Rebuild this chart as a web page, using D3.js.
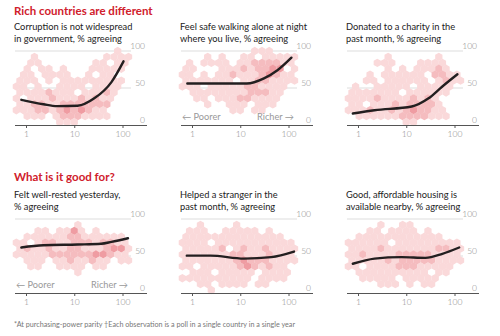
<!DOCTYPE html>
<html>
<head>
<meta charset="utf-8">
<script src="https://cdn.jsdelivr.net/npm/d3@7"></script>
<style>
  body { margin: 0; background: #fff; }
  text { font-family: Lato, "Open Sans", sans-serif; }
</style>
</head>
<body>
<div id="chart"></div>
<script>

var width = 500, height = 336;

// section titles
var sectionTitles = ["Rich countries are different", "What is it good for?"];

// panel subtitles (two lines each)
var panelTitles = [
  ["Corruption is not widespread", "in government, % agreeing"],
  ["Feel safe walking alone at night", "where you live, % agreeing"],
  ["Donated to a charity in the", "past month, % agreeing"],
  ["Felt well-rested yesterday,", "% agreeing"],
  ["Helped a stranger in the", "past month, % agreeing"],
  ["Good, affordable housing is", "available nearby, % agreeing"]
];

var xTicks = [1, 10, 100];
var xTickLabels = ["1", "10", "100"];
var yTicks = [0, 50, 100];

// fitted curves: GDP per person ($'000, log scale) vs % agreeing
var curveGdp = [
  [0.8, 2.3, 4.4, 11.7, 26, 59, 105],
  [0.8, 3, 13.7, 31, 59, 115],
  [0.78, 2.2, 13, 29, 56, 115],
  [0.8, 2.3, 11.7, 36, 59, 130],
  [0.78, 2.4, 12, 44, 130],
  [0.78, 2.2, 8, 25, 56, 125]
];
var curveValues = [
  [34, 28, 25.5, 26, 36, 58, 86],
  [56, 56, 56, 63, 74, 91],
  [15.5, 20, 25, 36, 52, 68.5],
  [61.5, 64.5, 65.5, 66.5, 69, 74],
  [50.5, 50.5, 46.5, 48.5, 56],
  [39.5, 46.5, 48.5, 47.5, 53, 61.5]
];

// hexbin density; rows run from 100% down in steps of 8,
// columns from log10(GDP) = -0.2 in steps of 0.15. "." = empty, 1-4 = shade
var hexRowStep = 8;
var hexColStart = -0.2, hexColStep = 0.15;
var hexGrids = [
  ["..............1.",
   "..1.........1111",
   "..11.......11.11",
   ".1.11.1...11111.",
   ".11.1111..1.11..",
   "111.1.111111111.",
   "11.1..1111.1111.",
   "11112111.11121..",
   "1.111211121211..",
   "1122112222222...",
   "1112212323211...",
   ".111.12221111...",
   "......111......."],
  ["..........111...",
   "...1.1..11.11111",
   ".1.1111.11222211",
   "11...111212233.1",
   "11.1.11211123211",
   "1111111.11221111",
   "111.11111221111.",
   ".1111111122211..",
   "..11.111221111..",
   "...1..111.111...",
   ".......11.11....",
   "................",
   "................"],
  ["................",
   ".....1......1...",
   "....111...1111..",
   ".....1.1.11121..",
   "...1.111111.2211",
   "..11.111111.1211",
   ".1..11111.11111.",
   "1111111.111111..",
   "1111211112121...",
   "11.1112122221...",
   "11121121232211..",
   ".1111112222111..",
   "........11......"],
  ["................",
   "........1.......",
   "...11.1131.1....",
   ".11111122111111.",
   "11.1221122212211",
   "1211211221112331",
   "1111122222233211",
   ".111.11211211.11",
   "..11..1111.11...",
   "........1.......",
   "................",
   "................",
   "................"],
  ["................",
   "..1....1........",
   ".111..11111.1...",
   "11111111111111..",
   "1111.11111111111",
   "111112.121121111",
   "1111111221112111",
   "1111111232221111",
   "11.111112321211.",
   ".111.11111.1111.",
   "1111111111.1111.",
   "..11.1111.11....",
   "....1..........."],
  ["................",
   "....1..11.......",
   "...11.1111.1....",
   ".111111111111...",
   "111111.111111111",
   "1111211111112211",
   "1121111222221111",
   "1111121222221111",
   "11.111122211111.",
   ".1111111111.11..",
   "..11111.11111...",
   "....111.1.11....",
   "................"]
];

var shades = {"1": "#fad9da", "2": "#f5bcbf", "3": "#ef9ca2", "4": "#e7808a"};
var red = "#d0202c";

var panelLeft = [15, 181, 347];
var rowTop = [51, 219];   // y of the 100 gridline
var plotH = 74;

var svg = d3.select("#chart").append("svg")
    .attr("width", width)
    .attr("height", height);

// section headings
svg.selectAll("text.section")
    .data(sectionTitles)
    .enter()
    .append("text")
    .classed("section", true)
    .attr("x", 14)
    .attr("y", (d, i) => i == 0 ? 15 : 181)
    .attr("fill", red)
    .style("font-size", "11.5px")
    .style("font-weight", "bold")
    .text(d => d);

var hexR = 4.2;
function hexPath(cx, cy) {
  var pts = d3.range(6).map(k => {
    var a = Math.PI / 3 * k + Math.PI / 6;
    return [cx + hexR * Math.cos(a), cy + hexR * Math.sin(a)];
  });
  return "M" + pts.join("L") + "Z";
}

panelTitles.forEach((title, p) => {
  var left = panelLeft[p % 3];
  var top = rowTop[Math.floor(p / 3)];

  var x = d3.scaleLog().domain([1, 100]).range([left + 11, left + 107.5]);
  var y = d3.scaleLinear().domain([0, 100]).range([top + plotH, top]);

  var g = svg.append("g");

  // subtitle
  g.selectAll("text.sub")
      .data(title)
      .enter()
      .append("text")
      .attr("x", left - 1)
      .attr("y", (d, i) => top - 21 + i * 11.5)
      .attr("fill", "#222")
      .style("font-size", "9.3px")
      .text(d => d);

  // gridlines
  g.selectAll("line.grid")
      .data([50, 100])
      .enter()
      .append("line")
      .attr("x1", left)
      .attr("x2", left + 116)
      .attr("y1", d => y(d))
      .attr("y2", d => y(d))
      .attr("stroke", "#d4d4d4")
      .attr("stroke-width", 0.8);

  // hexbins
  var cells = [];
  hexGrids[p].forEach((row, i) => {
    row.split("").forEach((c, j) => {
      if (c == ".") return;
      var lg = hexColStart + j * hexColStep + (i % 2 ? hexColStep / 2 : 0);
      cells.push({gdp: Math.pow(10, lg), value: 100 - i * hexRowStep, shade: c});
    });
  });
  g.append("g")
      .selectAll("path")
      .data(cells)
      .enter()
      .append("path")
      .attr("d", d => hexPath(x(d.gdp), y(d.value)))
      .attr("fill", d => shades[d.shade]);

  // y labels
  g.selectAll("text.ylab")
      .data(yTicks)
      .enter()
      .append("text")
      .attr("x", left + 130)
      .attr("y", d => y(d) - 2.5)
      .attr("text-anchor", "end")
      .attr("fill", "#888")
      .style("font-size", "8.5px")
      .style("font-weight", 300)
      .text(d => d);

  // x axis
  var axis = g.append("g")
      .attr("transform", "translate(0," + (top + plotH) + ")")
      .call(d3.axisBottom(x).tickValues(xTicks).tickFormat((d, i) => xTickLabels[i]).tickSize(3).tickPadding(3));
  axis.select(".domain")
      .attr("d", "M" + left + ",0.5H" + (left + 132))
      .attr("stroke", "#555");
  axis.selectAll(".tick line").attr("stroke", "#555");
  axis.selectAll(".tick text")
      .attr("fill", "#888")
      .style("font-family", "Lato, sans-serif")
      .style("font-size", "8.5px")
      .style("font-weight", 300);

  // curve
  var pts = curveGdp[p].map((d, i) => [d, curveValues[p][i]]);
  g.append("path")
      .datum(pts)
      .attr("d", d3.line().x(d => x(d[0])).y(d => y(d[1])).curve(d3.curveMonotoneX))
      .attr("fill", "none")
      .attr("stroke", "#231f20")
      .attr("stroke-width", 2.4)
      .attr("stroke-linecap", "round");
});

// poorer / richer hints
var hints = [{p: 1, v: 11}, {p: 3, v: 11}];
hints.forEach(h => {
  var left = panelLeft[h.p % 3];
  var top = rowTop[Math.floor(h.p / 3)];
  var y = d3.scaleLinear().domain([0, 100]).range([top + plotH, top]);
  svg.append("text")
      .attr("x", left + 1)
      .attr("y", y(h.v) + 3)
      .attr("fill", "#999")
      .style("font-size", "9.2px")
      .text("\u2190 Poorer");
  svg.append("text")
      .attr("x", left + 113)
      .attr("y", y(h.v) + 3)
      .attr("text-anchor", "end")
      .attr("fill", "#999")
      .style("font-size", "9.2px")
      .text("Richer \u2192");
});

// footnote
svg.append("text")
    .attr("x", 14)
    .attr("y", 327)
    .attr("fill", "#777")
    .style("font-size", "7.2px")
    .text("*At purchasing-power parity \u2020Each observation is a poll in a single country in a single year");

</script>
</body>
</html>
